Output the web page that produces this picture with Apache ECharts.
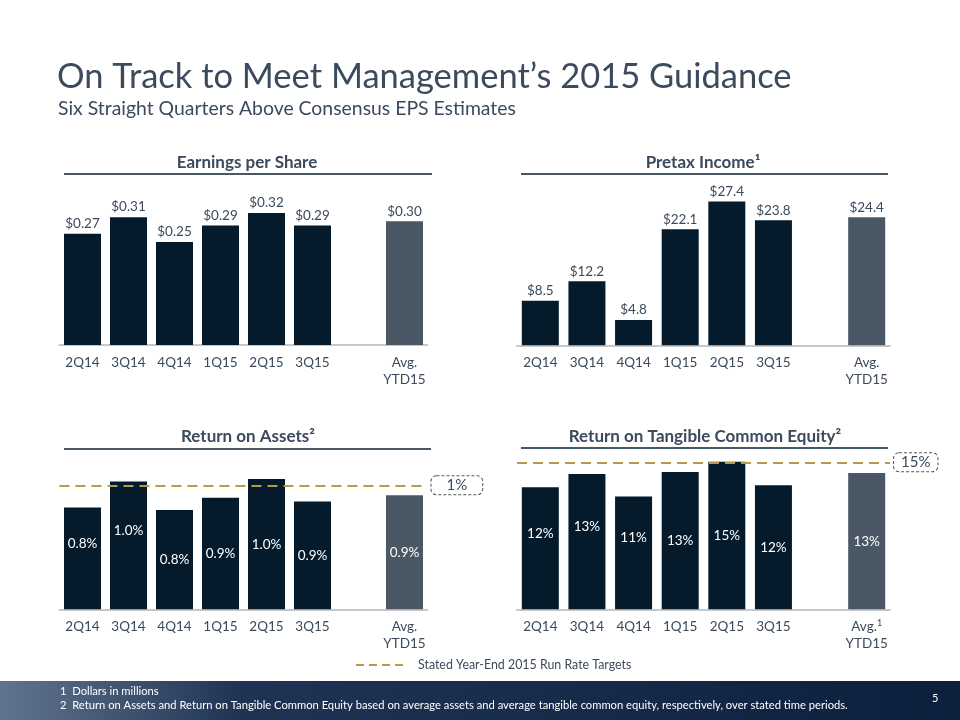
<!DOCTYPE html>
<html>
<head>
<meta charset="utf-8">
<script src="https://cdn.jsdelivr.net/npm/echarts@6/dist/echarts.min.js"></script>
<style>
  html, body { margin: 0; padding: 0; background: #fff; }
  #main { width: 960px; height: 720px; }
</style>
</head>
<body>
<div id="main"></div>
<script>
// quarters, with an empty slot before the YTD average
let categories = ['2Q14', '3Q14', '4Q14', '1Q15', '2Q15', '3Q15', '', 'Avg.\nYTD15'];

let eps = [0.27, 0.31, 0.25, 0.29, 0.32, 0.29, null, 0.30];
let epsLabels = ['$0.27', '$0.31', '$0.25', '$0.29', '$0.32', '$0.29', '', '$0.30'];

let pretax = [8.5, 12.2, 4.8, 22.1, 27.4, 23.8, null, 24.4];
let pretaxLabels = ['$8.5', '$12.2', '$4.8', '$22.1', '$27.4', '$23.8', '', '$24.4'];

let roa = [0.82, 1.03, 0.80, 0.90, 1.05, 0.87, null, 0.92];
let roaLabels = ['0.8%', '1.0%', '0.8%', '0.9%', '1.0%', '0.9%', '', '0.9%'];

let rotce = [12.45, 13.8, 11.5, 14.0, 15.05, 12.65, null, 13.9];
let rotceLabels = ['12%', '13%', '11%', '13%', '15%', '12%', '', '13%'];

let roaTarget = 1;
let rotceTarget = 15;

let darkBar = '#051b2b';
let avgBar = '#4a5866';
let textColor = '#3b4a5c';
let gold = '#b79b48';
let font = 'Lato';

let chart = echarts.init(document.getElementById('main'));

function barColor(p) {
    return p.dataIndex === 7 ? avgBar : darkBar;
}

function xAxis(gridIndex, supAvg) {
    return {
        type: 'category', gridIndex: gridIndex, data: categories,
        axisTick: {show: false},
        axisLine: {lineStyle: {color: '#c8c8c8', width: 2}},
        axisLabel: {
            color: textColor, fontFamily: font, fontSize: 13.5, margin: 9, lineHeight: 17,
            interval: 0,
            formatter: function (v) {
                if (supAvg && v.indexOf('Avg.') === 0) return 'Avg.{sup|1}\nYTD15';
                return v;
            },
            rich: {sup: {fontSize: 9, verticalAlign: 'top', color: textColor, fontFamily: font, padding: [0, 0, 6, 0]}}
        }
    };
}

function yAxis(gridIndex, max) {
    return {type: 'value', gridIndex: gridIndex, min: 0, max: max, show: false, splitLine: {show: false}};
}

function topSeries(idx, values, labels) {
    return {
        type: 'bar', xAxisIndex: idx, yAxisIndex: idx, data: values, barWidth: 37,
        itemStyle: {color: barColor},
        label: {
            show: true, position: 'top', distance: 3, color: textColor, fontFamily: font, fontSize: 13.5,
            formatter: function (p) { return labels[p.dataIndex]; }
        }
    };
}

function insideSeries(idx, values, labels, lifted, target, targetText, padX) {
    return {
        type: 'bar', xAxisIndex: idx, yAxisIndex: idx, barWidth: 37,
        data: values.map(function (v, i) {
            return {value: v, label: {offset: [0, i < lifted ? -15 : 0]}};
        }),
        itemStyle: {color: barColor},
        label: {
            show: true, position: 'inside', color: '#ffffff', fontFamily: font, fontSize: 13.5,
            formatter: function (p) { return labels[p.dataIndex]; }
        },
        markLine: {
            silent: true, symbol: 'none', z: 10,
            lineStyle: {color: gold, type: [10, 6], width: 2},
            label: {
                show: true, position: 'end', distance: 4, formatter: targetText,
                color: textColor, fontFamily: font, fontSize: 15,
                borderColor: '#555', borderWidth: 1, borderType: [3, 2], borderRadius: 5,
                padding: [2, padX, 1, padX], backgroundColor: '#fff'
            },
            data: [{yAxis: target}]
        }
    };
}

function panelTitle(text, cx, cy, x1, x2, ly) {
    return [
        {type: 'text', x: cx, y: cy, style: {text: text, fill: textColor, font: 'bold 17px ' + font, textAlign: 'center', textVerticalAlign: 'middle'}},
        {type: 'line', shape: {x1: x1, y1: ly, x2: x2, y2: ly}, style: {stroke: '#4a5866', lineWidth: 2}}
    ];
}

let graphics = [
    {type: 'text', x: 57, y: 77, style: {text: 'On Track to Meet Management\u2019s 2015 Guidance', fill: '#3b4b5d', font: '34.5px ' + font, textVerticalAlign: 'middle'}},
    {type: 'text', x: 58, y: 109, style: {text: 'Six Straight Quarters Above Consensus EPS Estimates', fill: '#3b4b5d', font: '19.4px ' + font, textVerticalAlign: 'middle'}},
    // footer band
    {type: 'rect', shape: {x: 0, y: 681, width: 960, height: 39}, style: {fill: new echarts.graphic.LinearGradient(0, 0, 1, 0, [{offset: 0, color: '#62758e'}, {offset: 0.25, color: '#1f3454'}, {offset: 1, color: '#0c1f3d'}])}},
    {type: 'text', x: 60, y: 691, style: {text: '1  Dollars in millions', fill: '#fff', font: '11.2px ' + font, textVerticalAlign: 'middle'}},
    {type: 'text', x: 60, y: 705, style: {text: '2  Return on Assets and Return on Tangible Common Equity based on average assets and average tangible common equity, respectively, over stated time periods.', fill: '#fff', font: '11.2px ' + font, textVerticalAlign: 'middle'}},
    {type: 'text', x: 932, y: 698, style: {text: '5', fill: '#fff', font: '11px ' + font, textVerticalAlign: 'middle'}},
    // legend
    {type: 'line', shape: {x1: 356, y1: 665, x2: 403, y2: 665}, style: {stroke: gold, lineWidth: 2, lineDash: [8, 5]}},
    {type: 'text', x: 418, y: 665, style: {text: 'Stated Year-End 2015 Run Rate Targets', fill: textColor, font: '12.4px ' + font, textVerticalAlign: 'middle'}}
];
graphics = graphics
    .concat(panelTitle('Earnings per Share', 247, 163, 64, 432, 174))
    .concat(panelTitle('Pretax Income\u00b9', 703, 163, 521, 888, 174))
    .concat(panelTitle('Return on Assets\u00b2', 248, 437, 64, 431, 449))
    .concat(panelTitle('Return on Tangible Common Equity\u00b2', 705, 437, 521, 888, 448));

let option = {
    backgroundColor: '#ffffff',
    animation: false,
    textStyle: {fontFamily: font},
    grid: [
        {left: 59.5, width: 368, top: 180, height: 165},
        {left: 517, width: 373, top: 187.8, height: 157.5},
        {left: 59.5, width: 368, top: 460.5, height: 148.8},
        {left: 517, width: 373, top: 452.5, height: 156.8}
    ],
    xAxis: [xAxis(0), xAxis(1), xAxis(2), xAxis(3, true)],
    yAxis: [yAxis(0, 0.4), yAxis(1, 30), yAxis(2, 1.2), yAxis(3, 16)],
    series: [
        topSeries(0, eps, epsLabels),
        topSeries(1, pretax, pretaxLabels),
        insideSeries(2, roa, roaLabels, 2, roaTarget, '1%', 15),
        insideSeries(3, rotce, rotceLabels, 3, rotceTarget, '15%', 7)
    ],
    graphic: graphics
};
chart.setOption(option);
</script>
</body>
</html>
